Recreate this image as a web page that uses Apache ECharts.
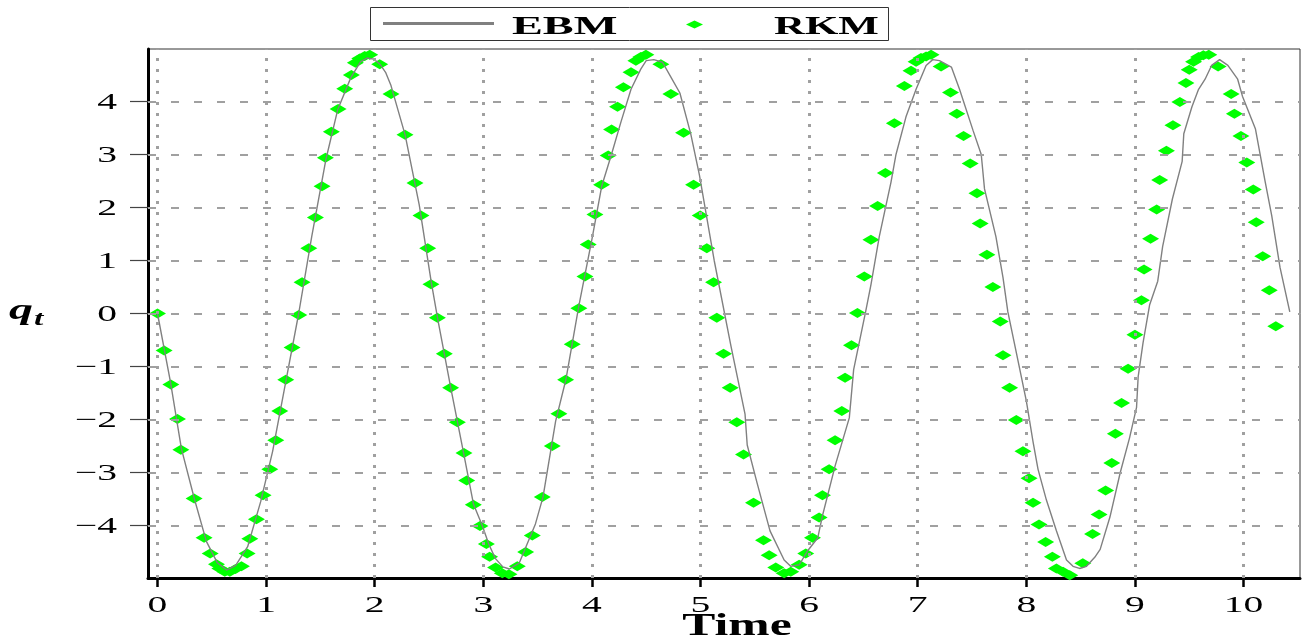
<!DOCTYPE html>
<html>
<head>
<meta charset="utf-8">
<script src="https://cdn.jsdelivr.net/npm/echarts@6/dist/echarts.min.js"></script>
<style>html,body{margin:0;padding:0;background:#fff}#c{width:1302px;height:640px}</style>
</head>
<body>
<div id="c"></div>
<script>
const xTicks = [0,1,2,3,4,5,6,7,8,9,10];
const yTicks = [-4,-3,-2,-1,0,1,2,3,4];
const xLabels = ['0','1','2','3','4','5','6','7','8','9','10'];
const yLabels = ['\u22124','\u22123','\u22122','\u22121','0','1','2','3','4'];
const seriesNames = ['EBM','RKM'];

const rkmT = [0,0.061,0.123,0.184,0.215,0.337,0.429,0.485,0.543,0.574,0.62,0.666,0.718,0.773,0.825,0.85,0.911,0.972,1.034,1.089,1.126,1.181,1.239,1.301,1.331,1.393,1.454,1.515,1.546,1.601,1.663,1.724,1.785,1.822,1.862,1.908,1.954,2.046,2.15,
2.279,2.371,2.426,2.488,2.518,2.577,2.641,2.699,2.761,2.822,2.847,2.908,2.969,3.028,3.058,3.113,3.175,3.236,3.313,3.39,3.451,3.543,3.635,3.696,3.758,3.819,3.88,3.936,3.966,4.028,4.089,4.15,4.181,4.236,4.29,
4.36,4.405,4.45,4.497,4.635,4.727,4.844,4.936,4.997,5.058,5.12,5.15,5.212,5.273,5.334,5.396,5.488,5.58,5.632,5.693,5.77,5.831,5.908,5.969,6.031,6.092,6.123,6.184,6.239,6.301,6.331,6.39,6.445,
6.508,6.569,6.631,6.702,6.785,6.877,6.938,6.985,7.03,7.077,7.123,7.215,7.302,7.36,7.422,7.483,7.545,7.575,7.637,7.692,7.76,7.785,7.846,7.908,7.969,8.025,8.062,8.117,8.178,8.24,8.277,8.338,8.40,8.52,8.61,
8.67,8.73,8.787,8.82,8.877,8.937,9.0,9.06,9.084,9.144,9.20,9.228,9.29,9.35,9.414,9.47,9.50,9.54,9.586,9.63,9.68,9.766,9.886,9.916,9.976,10.03,10.09,10.117,10.177,10.237,10.297];
const rkmQ = [0,-0.70,-1.34,-1.99,-2.57,-3.49,-4.23,-4.53,-4.73,-4.81,-4.87,-4.87,-4.82,-4.77,-4.53,-4.25,-3.88,-3.43,-2.94,-2.39,-1.84,-1.25,-0.64,-0.03,0.59,1.23,1.81,2.40,2.94,3.43,3.86,4.24,4.50,4.73,4.81,4.86,4.88,4.70,4.14,
3.37,2.46,1.85,1.23,0.55,-0.08,-0.76,-1.40,-2.05,-2.63,-3.15,-3.61,-4.01,-4.35,-4.59,-4.79,-4.90,-4.92,-4.77,-4.50,-4.19,-3.46,-2.50,-1.89,-1.25,-0.58,0.10,0.70,1.30,1.87,2.43,2.98,3.47,3.90,4.27,
4.55,4.77,4.84,4.88,4.70,4.14,3.41,2.43,1.85,1.23,0.59,-0.08,-0.76,-1.40,-2.05,-2.66,-3.57,-4.28,-4.56,-4.79,-4.90,-4.87,-4.74,-4.53,-4.23,-3.85,-3.43,-2.94,-2.39,-1.84,-1.21,-0.60,0.01,
0.70,1.39,2.03,2.65,3.59,4.29,4.58,4.75,4.82,4.85,4.88,4.66,4.17,3.77,3.35,2.83,2.27,1.70,1.11,0.50,-0.15,-0.79,-1.40,-2.01,-2.60,-3.11,-3.57,-3.98,-4.31,-4.59,-4.81,-4.87,-4.94,-4.71,-4.16,
-3.79,-3.34,-2.82,-2.27,-1.69,-1.04,-0.40,0.25,0.83,1.41,1.96,2.52,3.07,3.55,3.99,4.35,4.60,4.75,4.84,4.87,4.88,4.66,4.14,3.77,3.35,2.85,2.34,1.72,1.08,0.44,-0.24];

const ebmT = [0,0.12,0.22,0.34,0.45,0.55,0.635,0.72,0.83,0.95,1.06,1.18,1.3,1.42,1.55,1.66,1.78,1.87,1.93,1.99,2.05,2.1,2.15,2.28,2.41,2.52,2.58,2.7,2.82,2.91,2.99,3.05,3.11,3.18,3.24,3.33,3.48,3.55,3.666,3.76,3.88,4.0,4.09,4.18,
4.267,4.36,4.45,4.5,4.57,4.65,4.73,4.81,4.91,4.99,5.126,5.28,5.41,5.43,5.52,5.64,5.77,5.83,5.91,5.985,6.08,6.12,6.24,6.37,6.41,6.52,6.57,6.646,6.754,6.8,6.892,6.985,7.077,7.138,7.2,7.31,7.385,7.51,7.585,7.615,7.72,7.785,7.83,7.908,8.0,8.062,8.108,8.185,8.277,8.37,8.43,8.49,8.554,8.63,8.68,8.77,8.865,8.95,9.015,9.03,9.075,9.135,9.21,9.255,9.345,9.435,9.45,9.525,9.586,9.646,9.706,9.78,9.856,9.946,9.99,10.11,10.2,10.26,10.336,10.426];
const ebmQ = [0,-1.3,-2.55,-3.5,-4.3,-4.7,-4.84,-4.75,-4.4,-3.55,-2.6,-1.3,0,1.45,2.9,3.85,4.45,4.75,4.82,4.8,4.7,4.55,4.3,3.37,2.05,0.6,-0.1,-1.4,-2.65,-3.6,-4.0,-4.35,-4.62,-4.78,-4.82,-4.71,-3.97,-3.46,-2.03,-1.25,0.15,1.4,2.4,3.0,
3.61,4.23,4.61,4.77,4.79,4.74,4.45,4.16,3.39,2.61,1.0,-0.61,-1.9,-2.48,-3.19,-4.10,-4.65,-4.77,-4.74,-4.48,-4.23,-3.84,-2.87,-1.97,-1.06,0.03,0.55,1.45,2.48,3.0,3.71,4.23,4.68,4.79,4.77,4.65,4.23,3.45,3.0,2.35,1.45,0.68,0.03,-0.74,-1.65,-2.42,-2.94,-3.52,-4.10,-4.65,-4.77,-4.81,-4.77,-4.6,-4.45,-3.84,-3.0,-2.35,-1.77,-1.19,-0.55,0.16,0.61,1.26,2.16,2.87,3.39,3.9,4.23,4.42,4.68,4.79,4.68,4.42,4.1,3.48,2.48,1.84,0.87,0.03];

const SERIF = '"Liberation Serif","Times New Roman",serif';
const SX = 1.72;

const chart = echarts.init(document.getElementById('c'), null, {renderer:'canvas'});

const gridLines = [];
xTicks.forEach(v => gridLines.push({xAxis: v, lineStyle: {color:'#a0a0a0', width:3, type:[3,8]}}));
yTicks.forEach(v => gridLines.push({yAxis: v, lineStyle: {color:'#a0a0a0', width:2, type:[8,15]}}));

chart.setOption({
  animation: false,
  backgroundColor: '#fff',
  grid: {left:148, right:2, top:49, bottom:62, show:true, borderColor:'#333', borderWidth:1, backgroundColor:'transparent'},
  xAxis: {
    type:'value', min:-0.0875, max:10.52,
    axisLine:{show:true, onZero:false, lineStyle:{color:'#000', width:3}},
    axisTick:{show:true, customValues:xTicks, length:9, lineStyle:{color:'#000', width:2.5}},
    axisLabel:{show:false},
    splitLine:{show:false}
  },
  yAxis: {
    type:'value', min:-4.99, max:4.99,
    axisLine:{show:true, onZero:false, lineStyle:{color:'#000', width:3}},
    axisTick:{show:true, customValues:yTicks, length:18, lineStyle:{color:'#444', width:1.2}},
    axisLabel:{show:false},
    splitLine:{show:false}
  },
  series: [
    {
      name:'grid', type:'scatter', data:[], z:1, silent:true,
      markLine:{silent:true, symbol:['none','none'], label:{show:false}, data:gridLines, animation:false}
    },
    {
      name:seriesNames[1], type:'scatter', z:2,
      symbol:'diamond', symbolSize:[17,10],
      itemStyle:{color:'#00ff00', opacity:1},
      data: rkmT.map((t,i)=>[t, rkmQ[i]])
    },
    {
      name:seriesNames[0], type:'line', z:3, showSymbol:false, symbol:'none',
      lineStyle:{color:'#808080', width:1.4},
      data: ebmT.map((t,i)=>[t, ebmQ[i]])
    }
  ]
});

function txt(text, x, y, font, align, sx) {
  return {type:'text', x:x, y:y, scaleX: sx, scaleY:1, z:100, silent:true,
    style:{text:text, x:0, y:0, font:font, textAlign:align, textVerticalAlign:'middle', fill:'#000'}};
}

const g = [];
xTicks.forEach((v,i) => {
  const px = chart.convertToPixel({xAxisIndex:0}, v);
  g.push(txt(xLabels[i], px, 606, '23px ' + SERIF, 'center', SX));
});
yTicks.forEach((v,i) => {
  const py = chart.convertToPixel({yAxisIndex:0}, v);
  g.push(txt(yLabels[i], 117, py + 1, '23px ' + SERIF, 'right', SX));
});
// axis names
g.push(txt('Time', 737, 627, 'bold 31px ' + SERIF, 'center', 1.6));
g.push(txt('q', 9, 311, 'italic bold 30px ' + SERIF, 'left', 1.6));
g.push(txt('t', 34, 320, 'italic bold 21px ' + SERIF, 'left', 1.6));
// legend
g.push({type:'rect', z:99, silent:true, shape:{x:370.5, y:7.5, width:518, height:33}, style:{fill:'#fff', stroke:'#333', lineWidth:1}});
g.push({type:'line', z:100, silent:true, shape:{x1:383, y1:23.5, x2:494, y2:23.5}, style:{stroke:'#808080', lineWidth:3}});
g.push({type:'polygon', z:100, silent:true, shape:{points:[[686,24.5],[694.5,20.5],[703,24.5],[694.5,28.5]]}, style:{fill:'#00ff00'}});
g.push(txt(seriesNames[0], 512, 27, 'bold 26px ' + SERIF, 'left', 1.78));
g.push(txt(seriesNames[1], 774, 27, 'bold 26px ' + SERIF, 'left', 1.65));

chart.setOption({graphic: g});
</script>
</body>
</html>
